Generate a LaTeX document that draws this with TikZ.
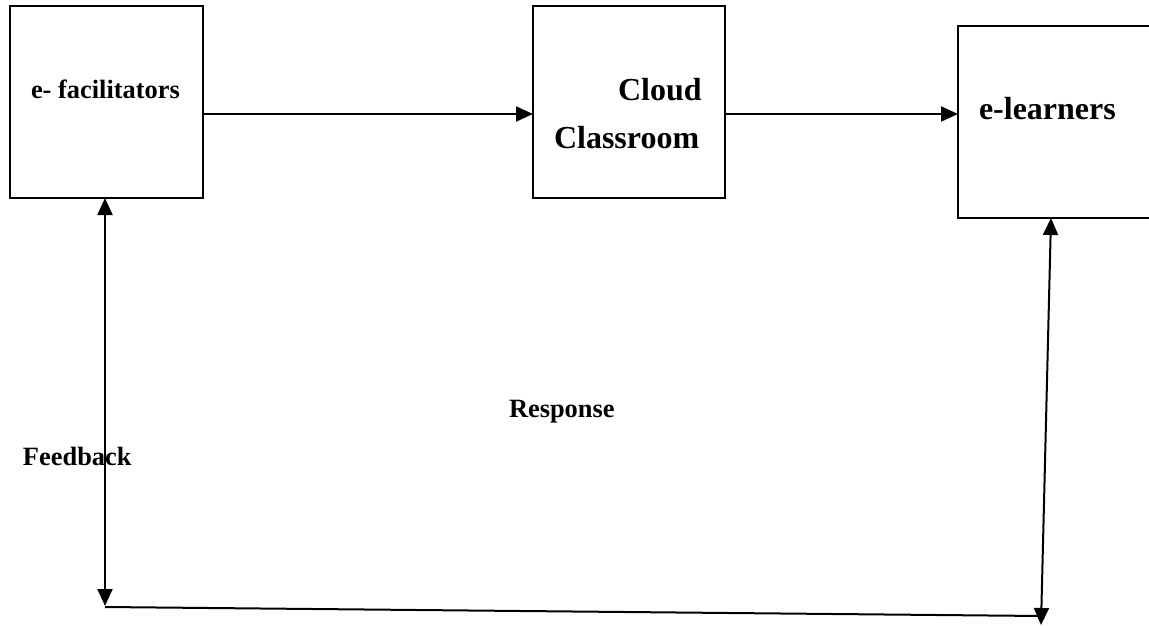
\documentclass[tikz,border=0pt]{standalone}
\usepackage{fontspec}
\setmainfont{Liberation Serif}
\usetikzlibrary{arrows.meta}

\tikzset{
  block/.style={draw=black, line width=2pt, minimum width=192pt, minimum height=192pt,
                inner sep=0pt, outer sep=0pt, fill=white},
  lbl/.style={anchor=base west, inner sep=0pt, outer sep=0pt,
              font=\bfseries\fontsize{26.4}{30}\selectfont},
  biglbl/.style={anchor=base west, inner sep=0pt, outer sep=0pt,
                 font=\bfseries\fontsize{32}{36}\selectfont},
  tip/.style={Triangle[length=17pt,width=15pt]},
  flow/.style={line width=2pt, -{Triangle[length=17pt,width=15pt]}},
  twoway/.style={line width=2pt, {Triangle[length=17pt,width=15pt]}-{Triangle[length=17pt,width=15pt]}},
  plain/.style={line width=2pt}
}

\begin{document}
\begin{tikzpicture}[x=1pt, y=-1pt]
  \useasboundingbox (0,0) rectangle (1149,626);

  % the three blocks
  \node[block, minimum width=193pt] (fac)   at (106.5,102) {};
  \node[block]                      (cloud) at (629,102)   {};
  \node[block, minimum width=193pt] (learn) at (1054.5,122) {};

  % block captions
  \node[lbl]    (facTxt)    at (31,99)   {e- facilitators};
  \node[biglbl] (cloudTxtA) at (618,100) {Cloud};
  \node[biglbl] (cloudTxtB) at (554,148) {Classroom};
  \node[biglbl] (learnTxt)  at (979,119) {e-learners};

  % loop labels
  \node[lbl] (respTxt) at (509,417) {Response};
  \node[lbl] (fbTxt)   at (23,465)  {Feedback};

  % forward flow
  \coordinate (outA) at ([yshift=-12pt]fac.east);
  \coordinate (outB) at ([yshift=-12pt]cloud.east);
  \draw[flow] (outA) -- (outA -| cloud.west);
  \draw[flow] (outB) -- (outB -| learn.west);

  % feedback / response loop
  \coordinate (fbEnd)   at (105,606);
  \coordinate (loopL)   at (105,607);
  \coordinate (loopR)   at (1041,616);
  \coordinate (lrnTop)  at ([xshift=-3.5pt]learn.south);
  \coordinate (lrnEnd)  at (1041,625);
  \draw[twoway] ([xshift=-1.5pt]fac.south) -- (fbEnd);
  \draw[plain] (loopL) -- (loopR);
  \draw[twoway] (lrnTop) -- (lrnEnd);
\end{tikzpicture}
\end{document}
